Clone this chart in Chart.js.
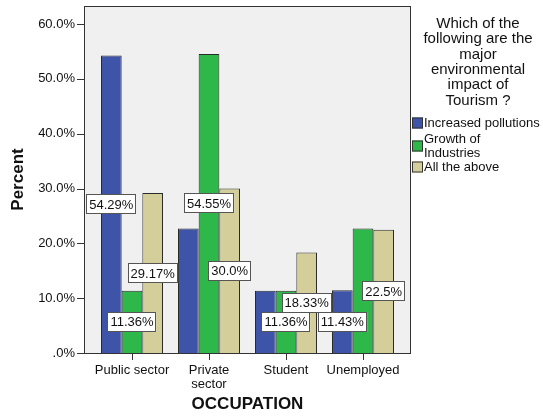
<!DOCTYPE html>
<html>
<head>
<meta charset="utf-8">
<script src="https://cdn.jsdelivr.net/npm/chart.js@4/dist/chart.umd.min.js"></script>
<style>
  html, body { margin: 0; padding: 0; background: #fff; }
</style>
</head>
<body>
<canvas id="occChart" width="543" height="420"></canvas>
<script>
// data
const occupations = ['Public sector', ['Private', 'sector'], 'Student', 'Unemployed'];
const seriesNames = ['Increased pollutions', ['Growth of', 'Industries'], 'All the above'];
const pollutions = [54.29, 22.73, 11.36, 11.43];
const industries = [11.36, 54.55, 11.36, 22.73];
const allAbove = [29.17, 30.0, 18.33, 22.5];
// which bars carry a value box in the original
const showPollutions = [true, false, false, true];
const showIndustries = [true, true, true, false];
const showAllAbove = [true, true, true, true];
const yTicks = [0, 10, 20, 30, 40, 50, 60];
const legendTitle = ['Which of the', 'following are the', 'major', 'environmental', 'impact of', 'Tourism ?'];

const colors = ['#3e54a8', '#2fb84a', '#d4cf9a'];
const FONT = '"Liberation Sans", Arial, sans-serif';
const PAD = 9.5; // frame sticks out this much past the chart area

function pctText(v) {
  let s = v.toFixed(2);
  if (s.endsWith('0')) s = s.slice(0, -1);
  return s + '%';
}

const framePlugin = {
  id: 'frame',
  beforeDraw(chart) {
    const { ctx, chartArea: a } = chart;
    ctx.save();
    ctx.fillStyle = '#f0f0f0';
    ctx.fillRect(a.left - PAD, a.top, a.right - a.left + 2 * PAD, a.bottom - a.top);
    ctx.restore();
  },
  afterDatasetsDraw(chart) {
    const { ctx, chartArea: a } = chart;
    const y = chart.scales.y;
    ctx.save();
    ctx.strokeStyle = '#333';
    ctx.lineWidth = 1;
    ctx.strokeRect(Math.round(a.left - PAD) + 0.5, Math.round(a.top) + 0.5,
      Math.round(a.right - a.left + 2 * PAD) - 1, Math.round(a.bottom - a.top));
    // y tick marks left of the frame
    ctx.beginPath();
    yTicks.forEach(v => {
      const py = Math.round(y.getPixelForValue(v)) + 0.5;
      ctx.moveTo(Math.round(a.left - PAD) - 7, py);
      ctx.lineTo(Math.round(a.left - PAD), py);
    });
    ctx.stroke();

    // value boxes in the middle of the bars
    ctx.font = '13px ' + FONT;
    ctx.textAlign = 'center';
    ctx.textBaseline = 'middle';
    chart.data.datasets.forEach((ds, di) => {
      const meta = chart.getDatasetMeta(di);
      meta.data.forEach((bar, i) => {
        if (!ds.showLabel[i]) return;
        const txt = pctText(ds.data[i]);
        const w = ctx.measureText(txt).width + 6;
        const h = 20;
        const cx = bar.x, cy = (bar.y + bar.base) / 2;
        const bx = Math.round(cx - w / 2), by = Math.round(cy - h / 2);
        ctx.fillStyle = '#fff';
        ctx.fillRect(bx, by, w, h);
        ctx.strokeStyle = '#555';
        ctx.strokeRect(bx + 0.5, by + 0.5, Math.round(w) - 1, h - 1);
        ctx.fillStyle = '#111';
        ctx.fillText(txt, cx, cy + 1);
      });
    });
    ctx.restore();
  },
  afterDraw(chart) {
    const { ctx } = chart;
    ctx.save();
    ctx.fillStyle = '#111';
    ctx.textAlign = 'center';
    ctx.textBaseline = 'middle';
    ctx.font = '15px ' + FONT;
    legendTitle.forEach((line, i) => ctx.fillText(line, 478, 24 + i * 15.3));
    // legend items
    const boxY = [123, 146, 167];
    ctx.font = '13px ' + FONT;
    ctx.textAlign = 'left';
    seriesNames.forEach((name, i) => {
      ctx.fillStyle = colors[i];
      ctx.fillRect(412, boxY[i] - 5.5, 11, 11);
      ctx.strokeStyle = '#333';
      ctx.strokeRect(412.5, boxY[i] - 5, 10, 10);
      ctx.fillStyle = '#111';
      const lines = Array.isArray(name) ? name : [name];
      lines.forEach((l, j) => {
        const ly = boxY[i] + (j - (lines.length - 1) / 2) * 14;
        ctx.fillText(l, 424, ly);
      });
    });
    ctx.restore();
  }
};

function makeSet(label, data, show, color) {
  return {
    label: Array.isArray(label) ? label.join(' ') : label,
    data: data,
    showLabel: show,
    backgroundColor: color,
    borderColor: '#2a2a2a',
    borderWidth: 1,
    categoryPercentage: 0.805,
    barPercentage: 1.0
  };
}

new Chart(document.getElementById('occChart'), {
  type: 'bar',
  data: {
    labels: occupations,
    datasets: [
      makeSet(seriesNames[0], pollutions, showPollutions, colors[0]),
      makeSet(seriesNames[1], industries, showIndustries, colors[1]),
      makeSet(seriesNames[2], allAbove, showAllAbove, colors[2])
    ]
  },
  options: {
    responsive: false,
    animation: false,
    layout: { padding: { top: 6, right: 141.5, left: 0, bottom: 0 } },
    plugins: {
      legend: { display: false },
      tooltip: { enabled: false }
    },
    scales: {
      x: {
        grid: { display: true, drawOnChartArea: false, offset: false, tickLength: 7, color: '#333' },
        border: { display: false },
        ticks: {
          color: '#111',
          font: { family: FONT, size: 13, lineHeight: 1.1 },
          padding: 3,
          maxRotation: 0,
          autoSkip: false
        },
        title: {
          display: true,
          text: 'OCCUPATION',
          color: '#111',
          font: { family: FONT, size: 17, weight: 'bold' },
          padding: { top: 0, bottom: 5 }
        },
        afterFit(scale) {
          scale.height = 67;
          scale.paddingLeft = 0;
          scale.paddingRight = 0;
        }
      },
      y: {
        min: 0,
        max: 63.3,
        grid: { display: false, drawTicks: false },
        border: { display: false },
        afterBuildTicks(scale) { scale.ticks = yTicks.map(v => ({ value: v })); },
        ticks: {
          color: '#111',
          font: { family: FONT, size: 13 },
          padding: 18.5,
          callback: v => (v === 0 ? '.0%' : v.toFixed(1) + '%')
        },
        title: {
          display: true,
          text: 'Percent',
          color: '#111',
          font: { family: FONT, size: 17, weight: 'bold' },
          padding: { top: 8, bottom: 0 }
        },
        afterFit(scale) {
          scale.width = 93.5;
          scale.paddingTop = 0;
          scale.paddingBottom = 0;
        }
      }
    }
  },
  plugins: [framePlugin]
});
</script>
</body>
</html>
